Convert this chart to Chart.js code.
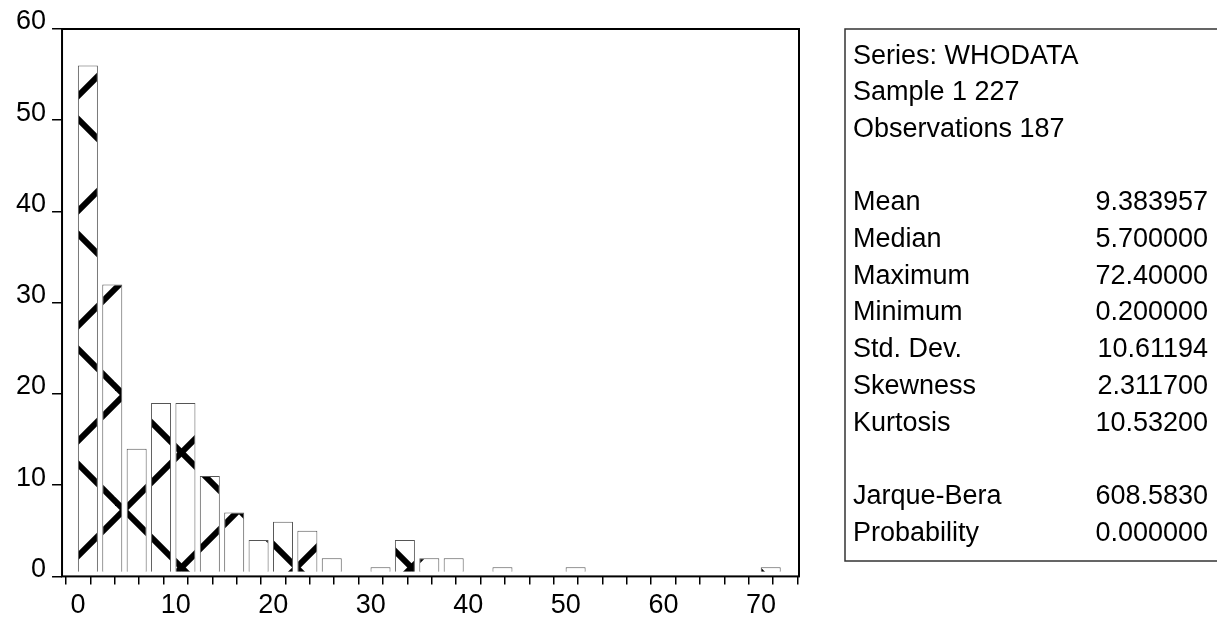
<!DOCTYPE html>
<html>
<head>
<meta charset="UTF-8" />
<title>Histogram - WHODATA</title>
<script src="https://cdn.jsdelivr.net/npm/chart.js"></script>
<style>
  html, body {
    margin: 0;
    padding: 0;
    background: #fff;
  }
  #histChart {
    display: block;
  }
</style>
</head>
<body>

<canvas id="histChart" width="1217" height="626"></canvas>

<script>
// histogram bins (lower edge, width 2.5) and counts
var binStarts = [0, 2.5, 5, 7.5, 10, 12.5, 15, 17.5, 20, 22.5, 25, 27.5, 30, 32.5, 35,
                 37.5, 40, 42.5, 45, 47.5, 50, 52.5, 55, 57.5, 60, 62.5, 65, 67.5, 70];
var counts    = [56, 32, 14, 19, 19, 11, 7, 4, 6, 5, 2, 0, 1, 4, 2,
                 2, 0, 1, 0, 0, 1, 0, 0, 0, 0, 0, 0, 0, 1];
var binWidth = 2.5;

var xTickLabels = [0, 10, 20, 30, 40, 50, 60, 70];
var yTickLabels = [0, 10, 20, 30, 40, 50, 60];

var headerLines = ["Series: WHODATA", "Sample 1 227", "Observations 187"];
var statNames  = ["Mean", "Median", "Maximum", "Minimum", "Std. Dev.", "Skewness", "Kurtosis"];
var statValues = ["9.383957", "5.700000", "72.40000", "0.200000", "10.61194", "2.311700", "10.53200"];
var testNames  = ["Jarque-Bera", "Probability"];
var testValues = ["608.5830", "0.000000"];

var FONT = "Arial, 'Liberation Sans', sans-serif";

// big diagonal cross hatch, anchored to the canvas
function makeHatch() {
  var p = 115;
  var c = document.createElement("canvas");
  c.width = p;
  c.height = p;
  var g = c.getContext("2d");
  g.fillStyle = "#fff";
  g.fillRect(0, 0, p, p);
  g.strokeStyle = "#000";
  g.lineWidth = 6;
  var k, v;
  for (k = -2; k <= 2; k++) {
    v = 59 + k * p;           // "/" lines: x + y = v
    g.beginPath();
    g.moveTo(v + 20, -20);
    g.lineTo(-20, v + 20);
    g.stroke();
    v = 41 + k * p;           // "\" lines: y - x = v
    g.beginPath();
    g.moveTo(-20, v - 20);
    g.lineTo(p + 20, v + p + 20);
    g.stroke();
  }
  return document.getElementById("histChart").getContext("2d").createPattern(c, "repeat");
}

var barData = binStarts.map(function (lo, i) {
  return { x: lo + binWidth * 0.4, y: counts[i] > 0 ? counts[i] : null };
});

var frameAndPanel = {
  id: "frameAndPanel",
  afterDatasetsDraw: function (chart) {
    var ctx = chart.ctx;
    var a = chart.chartArea;
    ctx.save();
    ctx.strokeStyle = "#000";
    ctx.lineWidth = 2;
    ctx.strokeRect(a.left, a.top, a.right - a.left, a.bottom - a.top);

    // statistics box
    var boxLeft = 845, boxTop = a.top, boxBottom = 561;
    ctx.strokeStyle = "#333";
    ctx.lineWidth = 1.5;
    ctx.strokeRect(boxLeft, boxTop, 1240 - boxLeft, boxBottom - boxTop);

    ctx.fillStyle = "#000";
    ctx.font = "27px " + FONT;
    ctx.textBaseline = "alphabetic";
    var rowH = 36.7, base0 = 63.5;
    var row = 0;
    function put(label, value) {
      var y = base0 + row * rowH;
      ctx.textAlign = "left";
      ctx.fillText(label, 853, y);
      if (value) {
        ctx.textAlign = "right";
        ctx.fillText(value, 1208, y);
      }
      row++;
    }
    headerLines.forEach(function (t) { put(t); });
    row++;
    statNames.forEach(function (t, i) { put(t, statValues[i]); });
    row++;
    testNames.forEach(function (t, i) { put(t, testValues[i]); });
    ctx.restore();
  }
};

new Chart(document.getElementById("histChart"), {
  type: "bar",
  data: {
    datasets: [{
      data: barData,
      base: 0.5,
      backgroundColor: makeHatch(),
      borderColor: "#555",
      borderWidth: 1,
      categoryPercentage: 1.0,
      barPercentage: 0.82
    }]
  },
  options: {
    responsive: false,
    animation: false,
    layout: { padding: { left: 10, top: 29, right: 418, bottom: 0 } },
    plugins: {
      legend: { display: false },
      tooltip: { enabled: false }
    },
    scales: {
      x: {
        type: "linear",
        min: -1.65,
        max: 73.9,
        offset: false,
        border: { display: false },
        grid: {
          drawOnChartArea: false,
          drawTicks: true,
          tickLength: 8,
          color: "#000",
          lineWidth: 1.5
        },
        ticks: {
          stepSize: 2.5,
          includeBounds: false,
          autoSkip: false,
          maxRotation: 0,
          padding: 10,
          color: "#000",
          font: { family: FONT, size: 27, lineHeight: 0.8 },
          callback: function (v) {
            return xTickLabels.indexOf(v) >= 0 ? String(v) : "";
          }
        }
      },
      y: {
        min: 0,
        max: 60,
        border: { display: false },
        grid: {
          drawOnChartArea: false,
          drawTicks: true,
          tickLength: 10,
          color: "#000",
          lineWidth: 1.5
        },
        ticks: {
          stepSize: 10,
          padding: 6,
          labelOffset: -7,
          color: "#000",
          font: { family: FONT, size: 27 },
          callback: function (v) {
            return yTickLabels.indexOf(v) >= 0 ? String(v) : "";
          }
        }
      }
    }
  },
  plugins: [frameAndPanel]
});
</script>

</body>
</html>
